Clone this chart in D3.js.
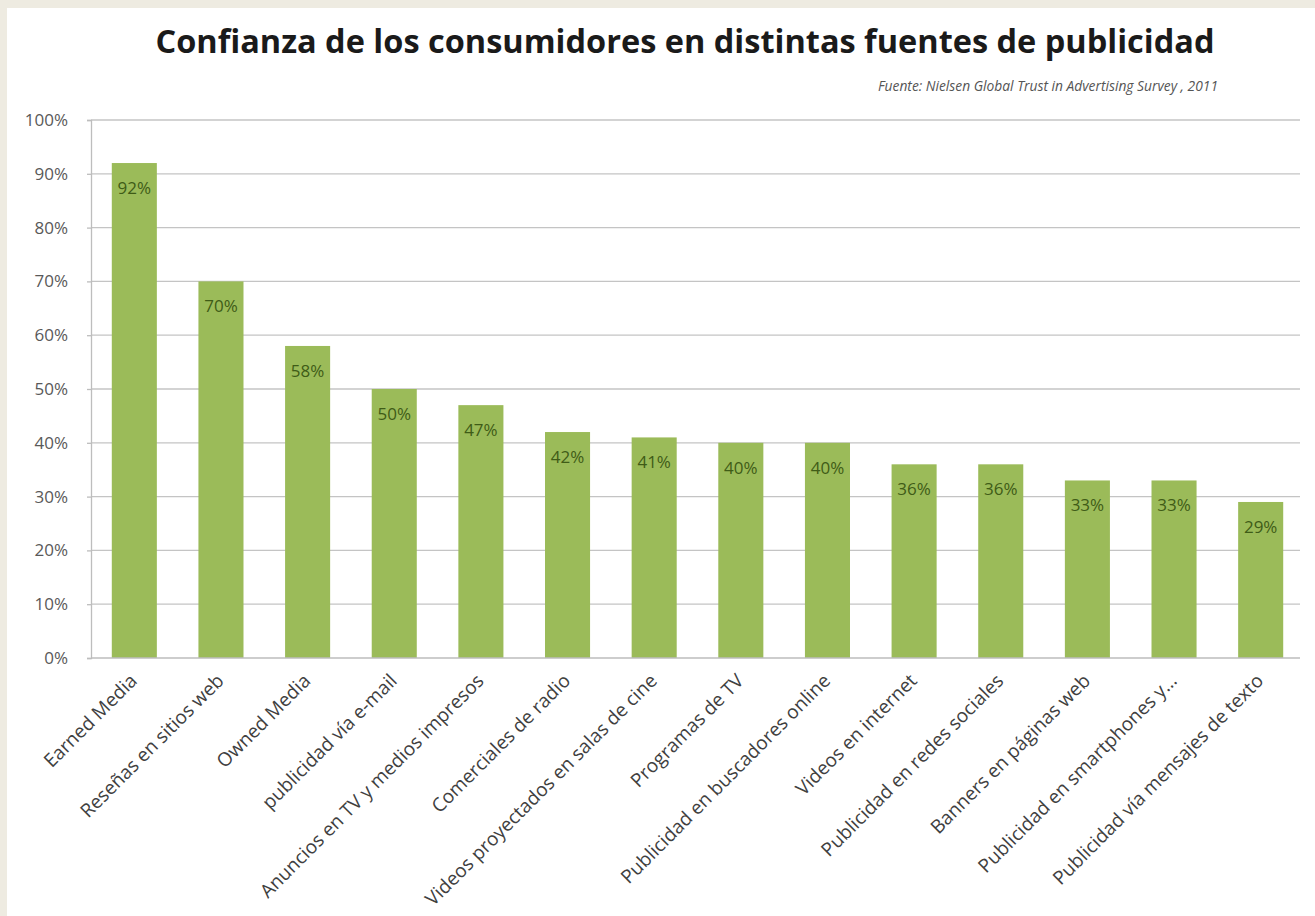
<!DOCTYPE html>
<html>
<head>
<meta charset="utf-8">
<script src="https://cdn.jsdelivr.net/npm/d3@7"></script>
<style>
  body { margin: 0; background: #eeebe1; }
  svg { display: block; }
  text { font-family: 'Open Sans', sans-serif; }
</style>
</head>
<body>
<svg></svg>
<script>
const width = 1315;
const height = 916;

const categories = [
    'Earned Media',
    'Reseñas en sitios web',
    'Owned Media',
    'publicidad vía e-mail',
    'Anuncios en TV y medios impresos',
    'Comerciales de radio',
    'Videos proyectados en salas de cine',
    'Programas de TV',
    'Publicidad en buscadores online',
    'Videos en internet',
    'Publicidad en redes sociales',
    'Banners en páginas web',
    'Publicidad en smartphones y...',
    'Publicidad vía mensajes de texto'
];
const values = [92, 70, 58, 50, 47, 42, 41, 40, 40, 36, 36, 33, 33, 29];
const yTicks = [0, 10, 20, 30, 40, 50, 60, 70, 80, 90, 100];

const title = 'Confianza de los consumidores en distintas fuentes de publicidad';
const source = 'Fuente: Nielsen Global Trust in Advertising Survey , 2011';

const margin = { top: 120, left: 91, right: 11, bottom: 258 };

const svg = d3.select('svg')
    .attr('width', width)
    .attr('height', height);

// white panel
svg.append('rect')
    .attr('x', 7)
    .attr('y', 8)
    .attr('width', width - 7)
    .attr('height', height - 8)
    .attr('fill', '#ffffff');

const x = d3.scaleBand()
    .domain(categories)
    .range([margin.left, width - margin.right])
    .paddingInner(0.48)
    .paddingOuter(0.24);

const y = d3.scaleLinear()
    .domain([0, 100])
    .range([height - margin.bottom, margin.top]);

// gridlines
svg.append('g')
    .selectAll('line')
    .data(yTicks.filter(d => d > 0))
    .enter()
    .append('line')
        .attr('x1', margin.left)
        .attr('x2', width - margin.right - 4)
        .attr('y1', d => y(d))
        .attr('y2', d => y(d))
        .attr('stroke', '#c4c4c4')
        .attr('stroke-width', 1.3);

// y axis
const yAxis = svg.append('g')
    .attr('transform', `translate(${margin.left}, 0)`)
    .call(d3.axisLeft(y)
        .tickValues(yTicks)
        .tickSize(4)
        .tickPadding(19)
        .tickFormat(d => d + '%'));
yAxis.selectAll('path, line').attr('stroke', '#bdbdbd').attr('stroke-width', 1.3);
yAxis.selectAll('text')
    .attr('fill', '#595959')
    .style('font-size', '17px')
    .style('font-family', "'Open Sans', sans-serif");

// bars
svg.append('g')
    .selectAll('rect')
    .data(values)
    .enter()
    .append('rect')
        .attr('x', (_, i) => x(categories[i]))
        .attr('width', x.bandwidth())
        .attr('y', d => y(d))
        .attr('height', d => y(0) - y(d))
        .attr('fill', '#9bbb59');

// value labels
svg.append('g')
    .selectAll('text')
    .data(values)
    .enter()
    .append('text')
        .attr('x', (_, i) => x(categories[i]) + x.bandwidth() / 2)
        .attr('y', d => y(d) + 31)
        .attr('text-anchor', 'middle')
        .attr('fill', '#3f5c17')
        .style('font-size', '17px')
        .text(d => d + '%');

// x axis line
svg.append('line')
    .attr('x1', margin.left)
    .attr('x2', width - margin.right - 4)
    .attr('y1', y(0))
    .attr('y2', y(0))
    .attr('stroke', '#bdbdbd')
    .attr('stroke-width', 1.3);

// category labels
svg.append('g')
    .selectAll('text')
    .data(categories)
    .enter()
    .append('text')
        .attr('transform', d => `translate(${x(d) + x.bandwidth() / 2 + 4}, ${y(0) + 24}) rotate(-45)`)
        .attr('text-anchor', 'end')
        .attr('fill', '#404040')
        .style('font-size', '19px')
        .text(d => d);

svg.append('text')
    .attr('x', 685)
    .attr('y', 53)
    .attr('text-anchor', 'middle')
    .attr('fill', '#1a1a1a')
    .style('font-size', '32.5px')
    .style('font-weight', 'bold')
    .text(title);

svg.append('text')
    .attr('x', 1218)
    .attr('y', 91)
    .attr('text-anchor', 'end')
    .attr('fill', '#555555')
    .style('font-size', '13.8px')
    .style('font-style', 'italic')
    .text(source);
</script>
</body>
</html>
